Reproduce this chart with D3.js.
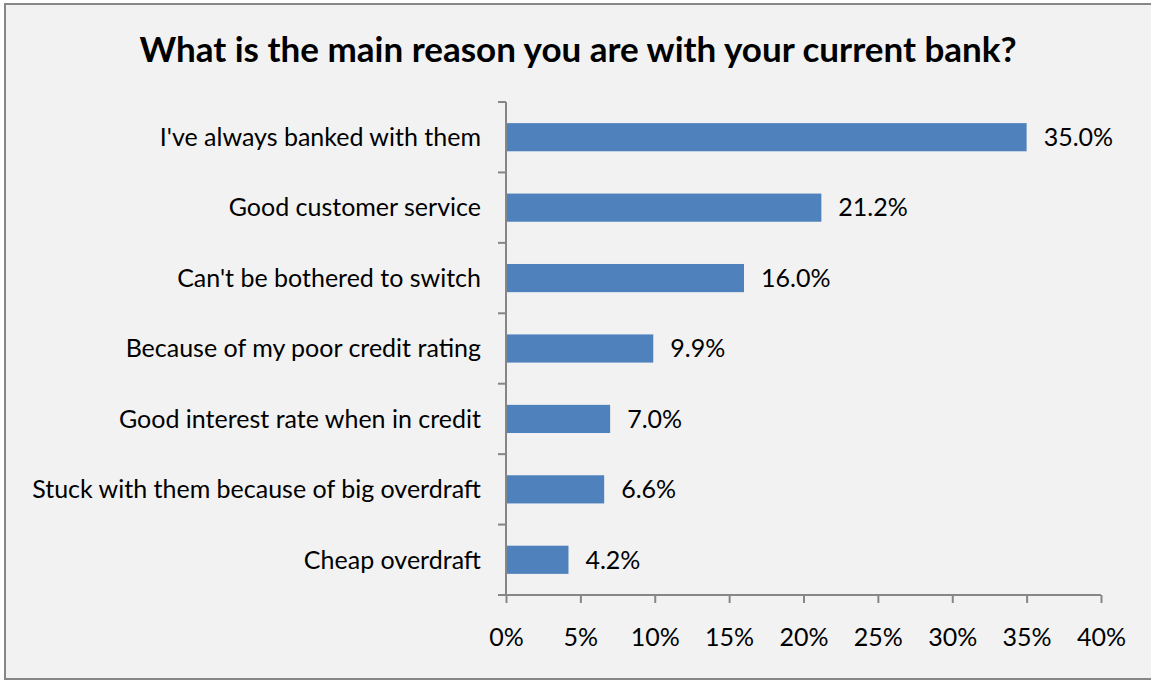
<!DOCTYPE html>
<html>
<head>
<meta charset="utf-8">
<script src="https://cdn.jsdelivr.net/npm/d3@7"></script>
<style>
  html, body { margin: 0; padding: 0; background: #ffffff; }
  svg { display: block; }
  text { font-family: Lato, "Open Sans", sans-serif; fill: #000; }
</style>
</head>
<body>
<svg id="chart" width="1151" height="681"></svg>
<script>
// Survey answers, top to bottom
const categories = [
  "I've always banked with them",
  "Good customer service",
  "Can't be bothered to switch",
  "Because of my poor credit rating",
  "Good interest rate when in credit",
  "Stuck with them because of big overdraft",
  "Cheap overdraft"
];
const shares = [35.0, 21.2, 16.0, 9.9, 7.0, 6.6, 4.2];
const tickValues = [0, 5, 10, 15, 20, 25, 30, 35, 40];
const titleText = "What is the main reason you are with your current bank?";

const svg = d3.select("#chart");
const W = 1151, H = 681;

// chart frame
svg.append("rect")
  .attr("x", 5).attr("y", 4).attr("width", W + 10).attr("height", 675)
  .attr("fill", "#f2f2f2").attr("stroke", "#878787").attr("stroke-width", 2);

svg.append("text")
  .attr("x", 578).attr("y", 62)
  .attr("text-anchor", "middle")
  .style("font-weight", "bold").style("font-size", "35px")
  .text(titleText);

const plot = { left: 506, right: 1101, top: 102, bottom: 595 };

const x = d3.scaleLinear().domain([0, 40]).range([plot.left, plot.right]);
const y = d3.scaleBand().domain(categories).range([plot.top, plot.bottom]).paddingInner(0.6).paddingOuter(0.3);

const axisColor = "#868686";
const labelSize = "25px";

// x axis
const xAxis = svg.append("g")
  .attr("transform", `translate(0,${plot.bottom})`)
  .call(d3.axisBottom(x).tickValues(tickValues).tickFormat(d => d + "%").tickSize(8).tickSizeOuter(0).tickPadding(25));
xAxis.select(".domain").remove();
xAxis.selectAll(".tick line").attr("stroke", axisColor).attr("stroke-width", 2);
xAxis.selectAll(".tick text").style("font-size", labelSize).style("font-family", "Lato, sans-serif").attr("fill", "#000");
xAxis.append("line")
  .attr("x1", plot.left - 8).attr("x2", plot.right)
  .attr("stroke", axisColor).attr("stroke-width", 2);

// y axis: category boundaries as ticks
const yAxis = svg.append("g");
yAxis.append("line")
  .attr("x1", plot.left).attr("x2", plot.left)
  .attr("y1", plot.top).attr("y2", plot.bottom)
  .attr("stroke", axisColor).attr("stroke-width", 2);
const step = y.step();
const boundaries = d3.range(categories.length).map(i => y(categories[i]) - (step - y.bandwidth()) / 2);
yAxis.selectAll("line.b").data(boundaries).join("line").attr("class", "b")
  .attr("x1", plot.left - 8).attr("x2", plot.left)
  .attr("y1", d => d).attr("y2", d => d)
  .attr("stroke", axisColor).attr("stroke-width", 2);

// category labels
svg.append("g").selectAll("text").data(categories).join("text")
  .attr("x", 481)
  .attr("y", d => y(d) + y.bandwidth() / 2)
  .attr("dy", "0.35em")
  .attr("text-anchor", "end")
  .style("font-size", labelSize)
  .text(d => d);

// bars
svg.append("g").selectAll("rect").data(shares).join("rect")
  .attr("x", x(0) + 1)
  .attr("y", (d, i) => y(categories[i]))
  .attr("width", d => x(d) - x(0) - 1)
  .attr("height", y.bandwidth())
  .attr("fill", "#4f81bd");

// value labels
svg.append("g").selectAll("text").data(shares).join("text")
  .attr("x", d => x(d) + 17)
  .attr("y", (d, i) => y(categories[i]) + y.bandwidth() / 2)
  .attr("dy", "0.35em")
  .style("font-size", labelSize)
  .text(d => d.toFixed(1) + "%");
</script>
</body>
</html>
